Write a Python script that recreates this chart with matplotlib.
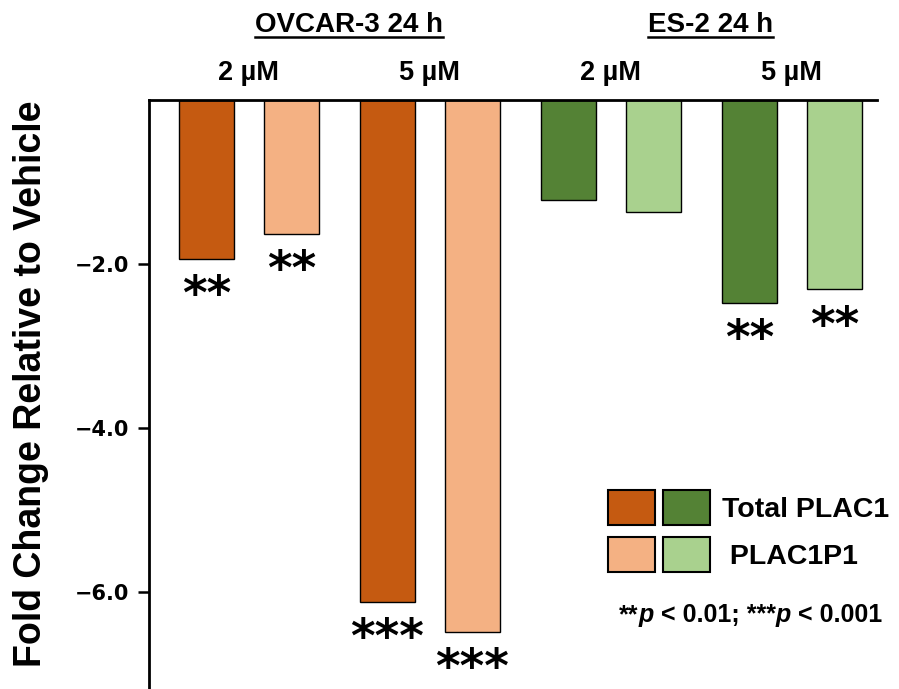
import numpy as np
import matplotlib
matplotlib.use("Agg")
import matplotlib.pyplot as plt
from matplotlib.patches import Patch
from matplotlib.legend_handler import HandlerTuple
from matplotlib.lines import Line2D

plt.rcParams['font.family'] = ['Liberation Sans', 'DejaVu Sans']
plt.rcParams['font.weight'] = 'bold'

# data
cell_lines = ['OVCAR-3 24 h', 'ES-2 24 h']
doses = ['2 µM', '5 µM', '2 µM', '5 µM']
total_plac1 = [-1.94, -6.12, -1.22, -2.47]
plac1p1 = [-1.63, -6.48, -1.37, -2.31]
sig_total = ['**', '***', '', '**']
sig_p1 = ['**', '***', '', '**']
yticks = [-2.0, -4.0, -6.0]

dark_colors = ['#C55A11', '#C55A11', '#548235', '#548235']
light_colors = ['#F4B183', '#F4B183', '#A9D18E', '#A9D18E']

W, H = 899, 689
fig = plt.figure(figsize=(W / 100, H / 100), dpi=100)
ax = fig.add_axes([149 / W, 0, 728 / W, 589 / H])

pair_x = np.arange(len(doses)) * 2.0
off = 0.47
bw = 0.6
x_total = pair_x - off
x_p1 = pair_x + off

ax.bar(x_total, total_plac1, bw, color=dark_colors, edgecolor='black', linewidth=1.0, zorder=2)
ax.bar(x_p1, plac1p1, bw, color=light_colors, edgecolor='black', linewidth=1.0, zorder=2)

# significance stars
for xs, vals, sigs in [(x_total, total_plac1, sig_total), (x_p1, plac1p1, sig_p1)]:
    for x, v, s in zip(xs, vals, sigs):
        if s:
            ax.annotate(s, (x, v), xytext=(0, -11), textcoords='offset points',
                        ha='center', va='top', fontsize=34, fontweight='bold',
                        family='DejaVu Sans')

ax.set_xlim(-1.105, 6.94)
ax.set_ylim(-7.18, 0)
ax.set_xticks([])
ax.set_yticks(yticks)
ax.set_yticklabels([f'\u2212{abs(t):.1f}' for t in yticks], fontsize=15, fontweight='bold',
                   family='DejaVu Sans')
ax.tick_params(axis='y', direction='out', length=8, width=1.8, pad=6)
ax.spines['right'].set_visible(False)
ax.spines['bottom'].set_visible(False)
ax.spines['left'].set_linewidth(2)
ax.spines['top'].set_linewidth(2)

ax.set_ylabel('Fold Change Relative to Vehicle', fontsize=27, fontweight='bold')
ax.yaxis.set_label_coords(-0.137, 0.518)

# dose labels
trans = ax.get_xaxis_transform()
for x, d in zip(pair_x, doses):
    ax.text(x, 1.046, d, transform=trans, ha='center', va='center', fontsize=19.5, fontweight='bold')

# cell line titles
titles = []
for i, name in enumerate(cell_lines):
    cx = pair_x[2 * i:2 * i + 2].mean() + 0.1
    t = ax.text(cx, 1.127, name, transform=trans, ha='center', va='center', fontsize=20, fontweight='bold')
    titles.append(t)

# legend with paired squares
h_total = (Patch(facecolor=dark_colors[0], edgecolor='black', linewidth=1.5),
           Patch(facecolor=dark_colors[2], edgecolor='black', linewidth=1.5))
h_p1 = (Patch(facecolor=light_colors[0], edgecolor='black', linewidth=1.5),
        Patch(facecolor=light_colors[2], edgecolor='black', linewidth=1.5))
leg = fig.legend([h_total, h_p1], ['Total PLAC1', ' PLAC1P1'],
                 handler_map={tuple: HandlerTuple(ndivide=None, pad=0.28)},
                 loc='upper left', bbox_to_anchor=(608 / W, 1 - 490 / H),
                 frameon=False, borderpad=0, borderaxespad=0,
                 handlelength=3.58, handleheight=1.514, handletextpad=0.42,
                 labelspacing=0.42, prop={'size': 20.5, 'weight': 'bold'})

# p-value note, pieces with italic p
fig.canvas.draw()
renderer = fig.canvas.get_renderer()
pieces = [('**', 'normal'), ('p', 'italic'), (' < 0.01; ***', 'normal'),
          ('p', 'italic'), (' < 0.001', 'normal')]
xpix = 619
for s, style in pieces:
    t = fig.text(xpix / W, 1 - 615 / H, s, ha='left', va='center', fontsize=18,
                 fontweight='bold', fontstyle=style)
    xpix += t.get_window_extent(renderer).width

# underline the titles
for t in titles:
    bb = t.get_window_extent(renderer)
    y = bb.y0 + 1
    fig.add_artist(Line2D([bb.x0 / W, bb.x1 / W], [y / H, y / H], transform=fig.transFigure,
                          color='black', linewidth=1.8))

fig.savefig('out.png', dpi=100)
